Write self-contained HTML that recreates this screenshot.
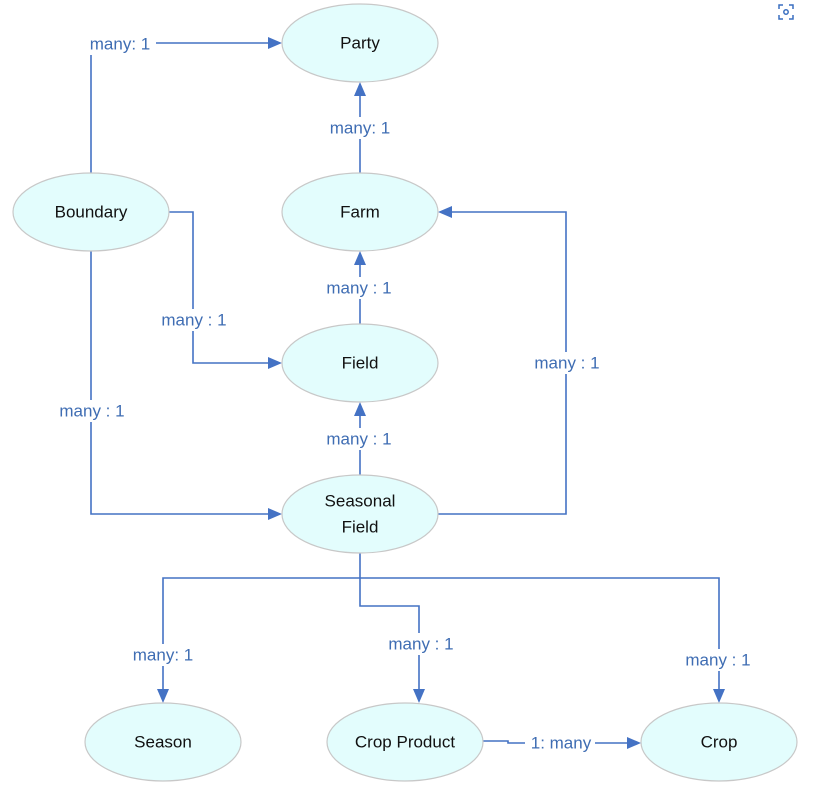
<!DOCTYPE html>
<html><head><meta charset="utf-8"><style>
html,body{margin:0;padding:0;background:#fff;}
svg{display:block;}
text{font-family:"Liberation Sans",sans-serif;}
.n{fill:#e3fdfd;stroke:#c8c8c8;stroke-width:1.2;}
.t{font-size:17px;fill:#111;text-anchor:middle;dominant-baseline:central;}
.l{font-size:17px;fill:#3f6db3;text-anchor:middle;dominant-baseline:central;}
.c{fill:none;stroke:#4472c4;stroke-width:1.6;}
.a{fill:#4472c4;}
.bg{fill:#fff;}
</style></head><body>
<svg width="818" height="790" viewBox="0 0 818 790" xmlns="http://www.w3.org/2000/svg">
<!-- connectors -->
<polyline class="c" points="91,173 91,43 268,43"/>
<polygon class="a" points="282,43 268,37 268,49"/>
<line class="c" x1="360" y1="173" x2="360" y2="96"/>
<polygon class="a" points="360,82 354,96 366,96"/>
<polyline class="c" points="169,212 193,212 193,363 268,363"/>
<polygon class="a" points="282,363 268,357 268,369"/>
<line class="c" x1="360" y1="324" x2="360" y2="265"/>
<polygon class="a" points="360,251 354,265 366,265"/>
<polyline class="c" points="91,251 91,514 268,514"/>
<polygon class="a" points="282,514 268,508 268,520"/>
<line class="c" x1="360" y1="475" x2="360" y2="416"/>
<polygon class="a" points="360,402 354,416 366,416"/>
<polyline class="c" points="438,514 566,514 566,212 452,212"/>
<polygon class="a" points="438,212 452,206 452,218"/>
<line class="c" x1="360" y1="553" x2="360" y2="578"/>
<polyline class="c" points="163,689 163,578 719,578 719,689"/>
<polygon class="a" points="163,703 157,689 169,689"/>
<polygon class="a" points="719,703 713,689 725,689"/>
<polyline class="c" points="360,578 360,606 419,606 419,689"/>
<polygon class="a" points="419,703 413,689 425,689"/>
<polyline class="c" points="483,741 508,741 508,743 627,743"/>
<polygon class="a" points="641,743 627,737 627,749"/>
<!-- labels -->
<rect class="bg" x="84" y="33" width="72" height="22"/>
<text class="l" x="120" y="44">many: 1</text>
<rect class="bg" x="322" y="117" width="76" height="22"/>
<text class="l" x="360" y="128">many: 1</text>
<rect class="bg" x="155" y="309" width="78" height="22"/>
<text class="l" x="194" y="320">many : 1</text>
<rect class="bg" x="320" y="277" width="78" height="22"/>
<text class="l" x="359" y="288">many : 1</text>
<rect class="bg" x="53" y="400" width="78" height="22"/>
<text class="l" x="92" y="411">many : 1</text>
<rect class="bg" x="320" y="428" width="78" height="22"/>
<text class="l" x="359" y="439">many : 1</text>
<rect class="bg" x="528" y="352" width="78" height="22"/>
<text class="l" x="567" y="363">many : 1</text>
<rect class="bg" x="126" y="644" width="74" height="22"/>
<text class="l" x="163" y="655">many: 1</text>
<rect class="bg" x="382" y="633" width="78" height="22"/>
<text class="l" x="421" y="644">many : 1</text>
<rect class="bg" x="679" y="649" width="78" height="22"/>
<text class="l" x="718" y="660">many : 1</text>
<rect class="bg" x="525" y="732" width="70" height="22"/>
<text class="l" x="561" y="743">1: many</text>
<!-- nodes -->
<ellipse class="n" cx="360" cy="43" rx="78" ry="39"/><text class="t" x="360" y="43">Party</text>
<ellipse class="n" cx="91" cy="212" rx="78" ry="39"/><text class="t" x="91" y="212">Boundary</text>
<ellipse class="n" cx="360" cy="212" rx="78" ry="39"/><text class="t" x="360" y="212">Farm</text>
<ellipse class="n" cx="360" cy="363" rx="78" ry="39"/><text class="t" x="360" y="363">Field</text>
<ellipse class="n" cx="360" cy="514" rx="78" ry="39"/><text class="t" x="360" y="501">Seasonal</text><text class="t" x="360" y="527">Field</text>
<ellipse class="n" cx="163" cy="742" rx="78" ry="39"/><text class="t" x="163" y="742">Season</text>
<ellipse class="n" cx="405" cy="742" rx="78" ry="39"/><text class="t" x="405" y="742">Crop Product</text>
<ellipse class="n" cx="719" cy="742" rx="78" ry="39"/><text class="t" x="719" y="742">Crop</text>
<!-- icon -->
<circle cx="786" cy="12" r="16" fill="#fff"/>
<g fill="none" stroke="#3a6fc0" stroke-width="1.5">
<path d="M779,9 v-4 h4 M789,5 h4 v4 M793,15 v4 h-4 M783,19 h-4 v-4"/>
<circle cx="786" cy="12" r="2.2"/>
</g>
</svg>
</body></html>
